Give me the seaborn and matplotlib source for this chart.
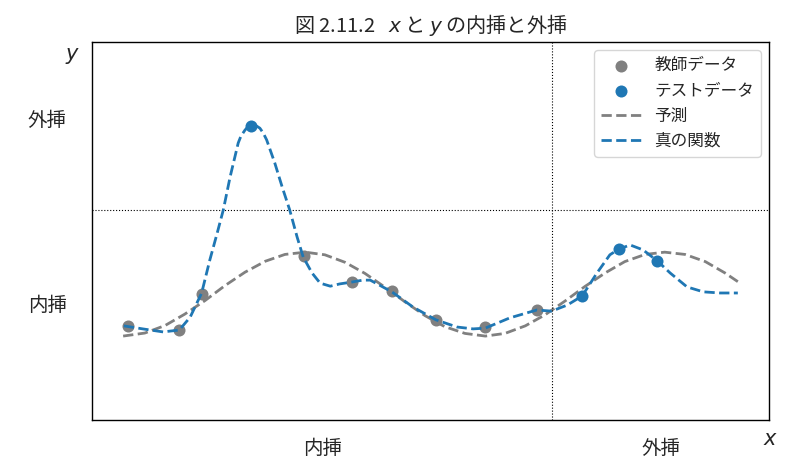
import matplotlib
matplotlib.use("Agg")
import matplotlib.pyplot as plt
import seaborn as sns
import pandas as pd

# 教師データ (training points)
train_x = [0.53, 1.29, 1.62, 3.13, 3.84, 4.43, 5.08, 5.81, 6.57]
train_y = [2.49, 2.38, 3.33, 4.34, 3.65, 3.40, 2.65, 2.45, 2.91]

# テストデータ (test points)
test_x = [2.35, 7.24, 7.78, 8.35]
test_y = [7.78, 3.28, 4.52, 4.21]

# 予測 (prediction curve)
pred_x = [0.46, 0.78, 1.08, 1.37, 1.67, 1.96, 2.26, 2.56, 2.85, 3.15, 3.44,
          3.74, 4.03, 4.33, 4.62, 4.92, 5.21, 5.51, 5.81, 6.10, 6.40, 6.69,
          6.99, 7.28, 7.58, 7.87, 8.17, 8.46, 8.76, 9.06, 9.35, 9.54]
pred_y = [2.22, 2.30, 2.50, 2.80, 3.16, 3.55, 3.91, 4.20, 4.38, 4.44, 4.37,
          4.17, 3.88, 3.51, 3.13, 2.76, 2.47, 2.29, 2.22, 2.29, 2.49, 2.78,
          3.15, 3.53, 3.89, 4.19, 4.38, 4.44, 4.38, 4.19, 3.89, 3.66]

# 真の関数 (true function)
true_x = [0.47, 0.75, 1.05, 1.29, 1.45, 1.62, 1.74, 1.85, 1.94, 2.04, 2.16,
          2.20, 2.26, 2.30, 2.36, 2.42, 2.48, 2.53, 2.58, 2.70, 2.81, 2.92,
          3.03, 3.12, 3.25, 3.37, 3.52, 3.66, 3.84, 4.00, 4.11, 4.43, 4.74,
          5.08, 5.39, 5.63, 5.81, 6.17, 6.57, 6.79, 7.02, 7.24, 7.46, 7.65,
          7.78, 7.95, 8.14, 8.35, 8.54, 8.79, 9.03, 9.28, 9.54]
true_y = [2.49, 2.41, 2.33, 2.38, 2.72, 3.36, 4.23, 4.95, 5.56, 6.43, 7.33,
          7.51, 7.67, 7.75, 7.80, 7.79, 7.72, 7.59, 7.41, 6.80, 6.16, 5.56,
          4.84, 4.31, 3.89, 3.62, 3.54, 3.60, 3.65, 3.70, 3.70, 3.39, 2.99,
          2.65, 2.46, 2.41, 2.43, 2.70, 2.91, 2.88, 3.04, 3.28, 3.89, 4.37,
          4.52, 4.63, 4.50, 4.21, 3.89, 3.52, 3.39, 3.36, 3.36]

# 区切り線と目盛り
x_split = 6.8
y_split = 5.56
x_ticks = [3.40, 8.40]
x_tick_labels = ["内挿", "外挿"]
y_ticks = [3.09, 7.98]
y_tick_labels = ["内挿", "外挿"]

train_df = pd.DataFrame({"x": train_x, "y": train_y})
test_df = pd.DataFrame({"x": test_x, "y": test_y})
pred_df = pd.DataFrame({"x": pred_x, "y": pred_y})
true_df = pd.DataFrame({"x": true_x, "y": true_y})

sns.set_style("white")
plt.rcParams["font.family"] = ["Noto Sans CJK JP", "DejaVu Sans"]
plt.rcParams["axes.edgecolor"] = "black"

fig = plt.figure(figsize=(8.12, 4.72), dpi=100)
ax = fig.add_axes([0.1133, 0.1102, 0.8337, 0.8008])

blue = "#1f77b4"
gray = "gray"

sns.lineplot(data=pred_df, x="x", y="y", ax=ax, color=gray, linestyle="--",
             linewidth=2, sort=False, estimator=None, label="予測", zorder=2)
sns.scatterplot(data=train_df, x="x", y="y", ax=ax, color=gray, s=75,
                linewidth=0, label="教師データ", zorder=3)
sns.lineplot(data=true_df, x="x", y="y", ax=ax, color=blue, linestyle="--",
             linewidth=2, sort=False, estimator=None, label="真の関数", zorder=4)
sns.scatterplot(data=test_df, x="x", y="y", ax=ax, color=blue, s=75,
                linewidth=0, label="テストデータ", zorder=5)

ax.axvline(x_split, color="black", linestyle=":", linewidth=0.8)
ax.axhline(y_split, color="black", linestyle=":", linewidth=0.8)

ax.set_xlim(0, 10)
ax.set_ylim(0, 10)
ax.set_xticks(x_ticks)
ax.set_xticklabels(x_tick_labels, fontsize=14)
ax.set_yticks(y_ticks)
ax.set_yticklabels(y_tick_labels, fontsize=14)
ax.tick_params(axis="x", length=0, pad=13)
ax.tick_params(axis="y", length=0, pad=18)
ax.set_xlabel("")
ax.set_ylabel("")
for sp in ax.spines.values():
    sp.set_linewidth(1.0)

ax.text(-0.028, 0.966, "$y$", transform=ax.transAxes, fontsize=15,
        ha="center", va="center")
ax.text(1.002, -0.05, "$x$", transform=ax.transAxes, fontsize=15,
        ha="center", va="center")

ax.set_title("図 2.11.2   $x$ と $y$ の内挿と外挿", fontsize=14.5, pad=7)

handles, labels = ax.get_legend_handles_labels()
order = [labels.index(n) for n in ["教師データ", "テストデータ", "予測", "真の関数"]]
ax.legend([handles[i] for i in order], [labels[i] for i in order],
          loc="upper right", fontsize=12, handlelength=2.4)

fig.savefig("out.png", dpi=100)
